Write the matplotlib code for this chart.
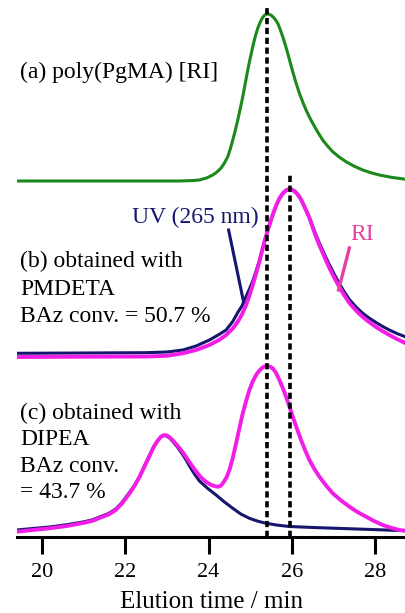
import matplotlib
matplotlib.use("Agg")
import matplotlib.pyplot as plt

plt.rcParams['font.family'] = ['Liberation Serif', 'DejaVu Serif']
plt.rcParams['lines.scale_dashes'] = False

# elution time (min) and detector signal (a.u.)
# (a) poly(PgMA), RI
t_a = [19.39, 22.50, 23.30, 23.60, 23.78, 23.95, 24.10, 24.20, 24.30, 24.38, 24.46, 24.52, 24.58,
       24.64, 24.70, 24.76, 24.82, 24.88, 24.94, 25.00, 25.06, 25.12, 25.18, 25.24, 25.30, 25.35,
       25.40, 25.45, 25.50, 25.55, 25.60, 25.66, 25.72, 25.78, 25.84, 25.90, 25.96, 26.02, 26.10,
       26.18, 26.26, 26.34, 26.42, 26.50, 26.62, 26.74, 26.86, 26.98, 27.14, 27.30, 27.50, 27.70,
       27.90, 28.10, 28.40, 28.74]
ri_a = [0, 0, 0, 0.4, 1, 3, 6, 9, 13, 18, 24.3, 32, 41,
        50.5, 61, 72.5, 84.3, 97.5, 111, 123, 134.3, 144.5, 152.7, 159, 163.7, 166,
        167, 166.8, 165.8, 164, 161.5, 157.7, 151.5, 144.3, 136.3, 127.7, 118.5, 109.3, 98,
        87.7, 79, 71, 64, 57.7, 49, 41, 34.8, 29.3, 23.8, 19.3, 14.7, 11,
        8.2, 6, 3.6, 1.7]

# (b) PMDETA, RI and UV share one time grid
t_b = [19.39, 21.00, 22.50, 23.00, 23.38, 23.70, 24.02, 24.25, 24.42, 24.58, 24.70, 24.80, 24.90,
       24.98, 25.06, 25.14, 25.22, 25.28, 25.34, 25.40, 25.46, 25.52, 25.58, 25.64, 25.70, 25.76,
       25.82, 25.88, 25.94, 26.00, 26.06, 26.12, 26.18, 26.24, 26.30, 26.36, 26.42, 26.50, 26.58,
       26.66, 26.74, 26.82, 26.90, 27.02, 27.14, 27.26, 27.38, 27.54, 27.70, 27.86, 28.02, 28.18,
       28.34, 28.52, 28.72]
ri_b = [0, 0.3, 0.5, 1.2, 3.7, 7, 12, 17, 22, 28.5, 35.3, 42.5, 52,
        61.5, 72, 83.5, 95.3, 105.5, 115.3, 124, 132, 140, 147, 153.3, 158.7, 162.5,
        165.3, 167.2, 168, 167.5, 166, 163.5, 160.3, 155.8, 150.3, 144.8, 139, 129.5, 120,
        111.8, 104, 96.5, 89, 79, 70, 61.5, 54, 46.5, 40, 34.8, 30, 25.8,
        22, 18, 14]
uv_b = [3.7, 4, 4.3, 5, 7, 11, 17, 22.5, 27, 35.5, 44.5, 51, 60.5,
        68, 76, 86, 96.5, 106, 115, 124, 131.5, 139.5, 146.5, 152.8, 158, 162,
        165, 167, 167.5, 167, 165.5, 163.3, 160, 155.7, 150.5, 145.2, 139.7, 130.8, 121.8,
        114, 106.5, 99.3, 92.3, 82.5, 73.3, 65, 57.5, 50, 43.8, 38.8, 34.5, 30.5,
        27, 23.5, 20.3]

# (c) DIPEA
t_c = [19.39, 20.18, 20.60, 20.98, 21.20, 21.38, 21.60, 21.77, 21.92, 22.09, 22.22, 22.34, 22.46,
       22.58, 22.68, 22.78, 22.86, 22.93, 23.00, 23.06, 23.13, 23.25, 23.37, 23.53, 23.69, 23.82,
       23.94, 24.06, 24.18, 24.24, 24.30, 24.38, 24.44, 24.50, 24.58, 24.66, 24.74, 24.82, 24.90,
       24.98, 25.06, 25.14, 25.22, 25.30, 25.36, 25.42, 25.48, 25.54, 25.62, 25.70, 25.78, 25.86,
       25.94, 26.02, 26.12, 26.22, 26.32, 26.42, 26.54, 26.66, 26.82, 26.98, 27.18, 27.38, 27.58,
       27.78, 27.98, 28.18, 28.38, 28.58, 28.72]
ri_c = [0.3, 3.7, 6, 9, 11, 14, 17.5, 22, 28.5, 38, 46, 55, 65.5,
        76, 85, 91.5, 95.5, 97, 96.5, 94.8, 92, 86.5, 80.3, 70.5, 61, 54.5,
        50, 47, 45.5, 45.3, 46.5, 51, 55.5, 62, 74, 88.7, 104, 118.7, 131,
        142, 150.5, 157, 161.5, 164.7, 165.8, 166, 165.2, 163.7, 159, 152, 144, 135.3,
        125.5, 115.3, 103.5, 92, 81.5, 72, 63, 55.3, 46.5, 38.7, 31.5, 25.3, 19.8,
        15.3, 10.8, 7, 4.2, 2, 1.3]
t_c_uv = [19.39, 20.18, 20.60, 20.98, 21.20, 21.38, 21.60, 21.77, 21.92, 22.09, 22.22, 22.34, 22.46,
          22.58, 22.68, 22.78, 22.86, 22.93, 23.00, 23.06, 23.13, 23.25, 23.37, 23.46, 23.54, 23.66,
          23.78, 23.98, 24.18, 24.38, 24.58, 24.78, 24.98, 25.18, 25.38, 25.66, 25.94, 26.50, 27.06,
          27.90, 28.72]
uv_c = [2, 5, 7.3, 10, 12, 15, 18.5, 23, 29.5, 39, 46.5, 55.5, 66,
        76.5, 85, 91.5, 95.3, 96.5, 95.8, 94, 91, 85, 78, 72, 66, 58,
        51, 43.5, 37, 30, 23.7, 17.8, 13.7, 10.8, 8.7, 6.8, 5.5, 4.5, 3.7,
        2.5, 1.3]

offsets = {'a': 356, 'b': 180, 'c': 5}
peak_lines = [25.40, 25.96]
xticks = [20, 22, 24, 26, 28]

green = '#1b891b'
magenta = '#f21ee8'
navy = '#16166e'
pink = '#e4409e'

fig = plt.figure(figsize=(4.06, 6.13), dpi=100)
ax = fig.add_axes([0.041, 0.124, 0.959, 0.876])

ax.plot(t_a, [v + offsets['a'] for v in ri_a], color=green, lw=2.2, solid_joinstyle='round')
ax.plot(t_b, [v + offsets['b'] for v in uv_b], color=navy, lw=2.2, solid_joinstyle='round')
ax.plot(t_b, [v + offsets['b'] for v in ri_b], color=magenta, lw=2.8, solid_joinstyle='round')
ax.plot(t_c_uv, [v + offsets['c'] for v in uv_c], color=navy, lw=2.2, solid_joinstyle='round')
ax.plot(t_c, [v + offsets['c'] for v in ri_c], color=magenta, lw=2.8, solid_joinstyle='round')

# peak position markers
ax.plot([peak_lines[0]] * 2, [0, 529], color='black', lw=2.6, ls=(0, (4.5, 2.6)))
ax.plot([peak_lines[1]] * 2, [0, 362], color='black', lw=2.6, ls=(0, (4.5, 2.6)))

# labels
ax.text(19.48, 465, '(a) poly(PgMA) [RI]', fontsize=17, va='center', ha='left')
ax.text(19.48, 248, '(b) obtained with\nPMDETA\nBAz conv. = 50.7 %', fontsize=17,
        va='center', ha='left', linespacing=1.38)
ax.text(19.48, 84, '(c) obtained with\nDIPEA\nBAz conv.\n= 43.7 %', fontsize=17,
        va='center', ha='left', linespacing=1.34)

ax.text(23.69, 320, 'UV (265 nm)', fontsize=17, color=navy, va='center', ha='center')
ax.plot([24.48, 24.84], [307, 235], color=navy, lw=2.2)
ax.text(27.68, 302, 'RI', fontsize=17, color=pink, va='center', ha='center')
ax.plot([27.38, 27.12], [289, 247], color=pink, lw=2.4)

ax.set_xlim(19.39, 28.74)
ax.set_ylim(0, 537)
ax.set_xticks(xticks)
ax.set_yticks([])
for side in ['left', 'right', 'top']:
    ax.spines[side].set_visible(False)
ax.spines['bottom'].set_linewidth(2.2)
ax.tick_params(axis='x', direction='out', length=12, width=2.2, labelsize=16, pad=7)
ax.set_xlabel('Elution time / min', fontsize=18, labelpad=6)

plt.savefig('out.png', dpi=100)
